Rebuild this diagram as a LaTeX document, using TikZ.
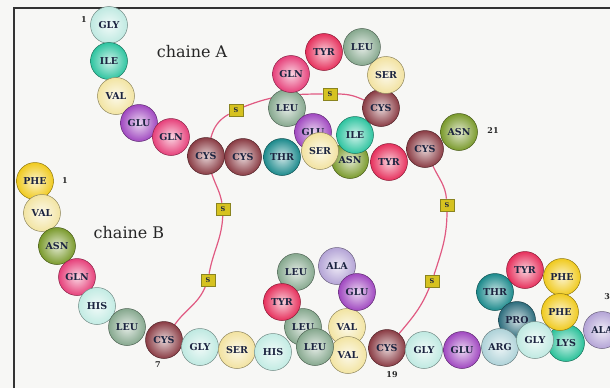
\documentclass[tikz,border=0pt]{standalone}
\usepackage{fontspec}
\setmainfont{DejaVu Serif}
\pgfdeclarelayer{paperlayer}
\pgfdeclarelayer{bonds}
\pgfsetlayers{paperlayer,bonds,main}

% residue colours
\definecolor{cGLY}{HTML}{BFE9E1}
\definecolor{cILE}{HTML}{2EC4A0}
\definecolor{cVAL}{HTML}{F2E4A2}
\definecolor{cGLU}{HTML}{A048C0}
\definecolor{cGLN}{HTML}{E6407A}
\definecolor{cCYS}{HTML}{8A3C44}
\definecolor{cTHR}{HTML}{1C8A8C}
\definecolor{cSER}{HTML}{F2E2A0}
\definecolor{cLEU}{HTML}{86A88E}
\definecolor{cTYR}{HTML}{E6305C}
\definecolor{cASN}{HTML}{7A9A2C}
\definecolor{cPHE}{HTML}{F0CA1E}
\definecolor{cHIS}{HTML}{C2EBE3}
\definecolor{cALA}{HTML}{B4A4D6}
\definecolor{cARG}{HTML}{AED2D8}
\definecolor{cPRO}{HTML}{2C6C7C}
\definecolor{cLYS}{HTML}{28C098}
\definecolor{inkres}{HTML}{1C2440}
\definecolor{bondpink}{HTML}{E05A82}
\definecolor{sfill}{HTML}{D6C220}
\definecolor{sdraw}{HTML}{8A8420}
\definecolor{paper}{HTML}{F7F7F5}

\tikzset{
  res/.style={circle, minimum size=37pt, inner sep=0pt,
    draw=#1!60!black, line width=0.5pt,
    inner color=#1!22!white, outer color=#1,
    text=inkres, font=\fontsize{9.5}{10}\selectfont\bfseries},
  sbox/.style={rectangle, minimum width=14pt, minimum height=12pt, inner sep=0pt,
    fill=sfill, draw=sdraw, line width=0.6pt, text=inkres,
    font=\fontsize{6.5}{7}\selectfont\bfseries},
  ssbond/.style={draw=bondpink, line width=1.2pt},
  chainlabel/.style={font=\fontsize{16}{18}\selectfont, text=black!85},
  numlabel/.style={font=\fontsize{8}{9}\selectfont\bfseries, text=black!85},
  frame/.style={draw=black!80, line width=1.2pt}
}

\begin{document}
\begin{tikzpicture}[x=1pt, y=-1pt]
  \useasboundingbox (0,0) rectangle (610,388);
  \begin{pgfonlayer}{paperlayer}
    \fill[paper] (0,0) rectangle (610,388);
    \draw[frame] (14,388) -- (14,8) -- (610,8);
  \end{pgfonlayer}

  % chain A
  \node[res=cGLY] (a1) at (109,25) {GLY};
  \node[res=cILE] (a2) at (109,61) {ILE};
  \node[res=cVAL] (a3) at (116,96) {VAL};
  \node[res=cGLU] (a4) at (139,123) {GLU};
  \node[res=cGLN] (a5) at (171,137) {GLN};
  \node[res=cCYS] (a6) at (206,156) {CYS};
  \node[res=cCYS] (a7) at (243,157) {CYS};
  \node[res=cTHR] (a8) at (282,157) {THR};
  \node[res=cLEU] (a16) at (287,108) {LEU};
  \node[res=cGLU] (a17) at (313,132) {GLU};
  \node[res=cASN] (a18) at (350,160) {ASN};
  \node[res=cTYR] (a19) at (389,162) {TYR};
  \node[res=cCYS] (a20) at (425,149) {CYS};
  \node[res=cASN] (a21) at (459,132) {ASN};
  \node[res=cSER] (a9) at (320,151) {SER};
  \node[res=cILE] (a10) at (355,135) {ILE};
  \node[res=cCYS] (a11) at (381,108) {CYS};
  \node[res=cSER] (a12) at (386,75) {SER};
  \node[res=cLEU] (a13) at (362,47) {LEU};
  \node[res=cTYR] (a14) at (324,52) {TYR};
  \node[res=cGLN] (a15) at (291,74) {GLN};

  % chain B
  \node[res=cPHE] (b1) at (35,181) {PHE};
  \node[res=cVAL] (b2) at (42,213) {VAL};
  \node[res=cASN] (b3) at (57,246) {ASN};
  \node[res=cGLN] (b4) at (77,277) {GLN};
  \node[res=cHIS] (b5) at (97,306) {HIS};
  \node[res=cLEU] (b6) at (127,327) {LEU};
  \node[res=cCYS] (b7) at (164,340) {CYS};
  \node[res=cGLY] (b8) at (200,347) {GLY};
  \node[res=cSER] (b9) at (237,350) {SER};
  \node[res=cHIS] (b10) at (273,352) {HIS};
  \node[res=cVAL] (b12) at (347,327) {VAL};
  \node[res=cALA] (b14) at (337,266) {ALA};
  \node[res=cGLU] (b13) at (357,292) {GLU};
  \node[res=cLEU] (b15) at (296,272) {LEU};
  \node[res=cLEU] (b17) at (303,327) {LEU};
  \node[res=cTYR] (b16) at (282,302) {TYR};
  \node[res=cVAL] (b18) at (348,355) {VAL};
  \node[res=cLEU] (b11) at (315,347) {LEU};
  \node[res=cCYS] (b19) at (387,348) {CYS};
  \node[res=cGLY] (b20) at (424,350) {GLY};
  \node[res=cGLU] (b21) at (462,350) {GLU};
  \node[res=cTHR] (b27) at (495,292) {THR};
  \node[res=cPRO] (b28) at (517,320) {PRO};
  \node[res=cARG] (b22) at (500,347) {ARG};
  \node[res=cLYS] (b29) at (566,343) {LYS};
  \node[res=cGLY] (b23) at (535,340) {GLY};
  \node[res=cTYR] (b26) at (525,270) {TYR};
  \node[res=cPHE] (b25) at (562,277) {PHE};
  \node[res=cPHE] (b24) at (560,312) {PHE};
  \node[res=cALA] (b30) at (602,330) {ALA};

  % sulphur atoms of the disulphide bridges
  \node[sbox] (s1) at (223,209) {S};
  \node[sbox] (s2) at (208,280) {S};
  \node[sbox] (s3) at (236,110) {S};
  \node[sbox] (s4) at (330,94) {S};
  \node[sbox] (s5) at (447,205) {S};
  \node[sbox] (s6) at (432,281) {S};

  % disulphide bridges, behind the residues
  \begin{pgfonlayer}{bonds}
    \draw[ssbond] (a6) to[out=-72,in=100] (s1) to[out=-92,in=80] (s2) to[out=-112,in=55] (b7);
    \draw[ssbond] (a6) to[out=75,in=210] (s3) to[out=22,in=180] (s4) to[out=0,in=155] (a11);
    \draw[ssbond] (a20) to[out=-65,in=95] (s5) to[out=-90,in=72] (s6) to[out=-112,in=50] (b19);
  \end{pgfonlayer}

  % labels
  \node[chainlabel] (la) at (192,52) {chaine A};
  \node[chainlabel] (lb) at (129,233) {chaine B};
  \node[numlabel] (n1a) at (84,20) {1};
  \node[numlabel] (n21) at (493,131) {21};
  \node[numlabel] (n1b) at (65,181) {1};
  \node[numlabel] (n7) at (158,365) {7};
  \node[numlabel] (n19) at (392,375) {19};
  \node[numlabel] (n30) at (610,297) {30};
\end{tikzpicture}
\end{document}
